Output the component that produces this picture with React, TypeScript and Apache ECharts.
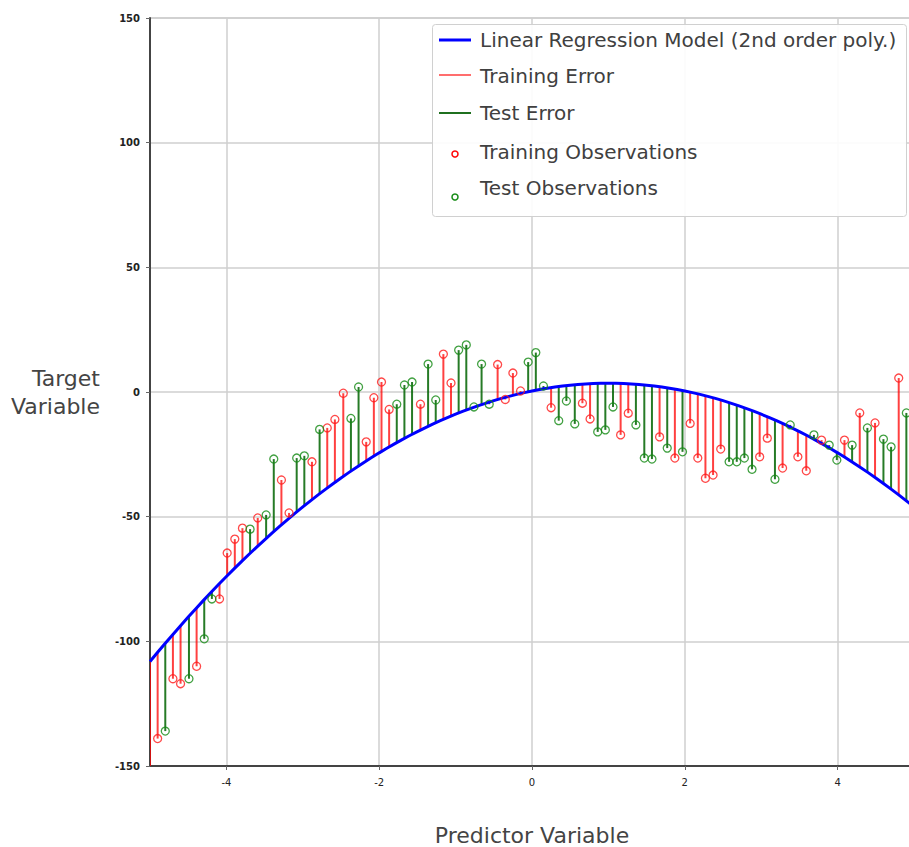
import React, { useEffect, useRef } from "react";
import * as echarts from "echarts";

// Observations (x, y)
const trainX = [-5.0, -4.9, -4.7, -4.6, -4.39, -4.09, -3.99, -3.89, -3.79, -3.59, -3.28, -3.18, -2.88, -2.68, -2.58, -2.47, -2.17, -2.07, -1.97, -1.87, -1.46, -1.16, -1.06, -0.45, -0.35, -0.25, -0.15, 0.25, 0.66, 0.76, 1.16, 1.26, 1.67, 1.87, 2.07, 2.17, 2.27, 2.37, 2.47, 2.98, 3.08, 3.28, 3.48, 3.59, 3.79, 4.09, 4.29, 4.49, 4.8];
const trainY = [-160, -139, -115, -117, -110, -83, -64.6, -59, -54.6, -50.5, -35.3, -48.5, -28, -14.4, -11, -0.5, -20, -2.3, 4, -7, -4.9, 15.2, 3.6, 11, -3, 7.6, 0.4, -6.3, -4.5, -10.8, -17.2, -8.5, -18, -26.5, -12.6, -26.5, -34.6, -33.3, -22.9, -26, -18.5, -30.5, -26, -31.6, -19.3, -19.3, -8.4, -12.4, 5.6];

const testX = [-4.8, -4.49, -4.29, -4.19, -3.69, -3.48, -3.38, -3.08, -2.98, -2.78, -2.37, -2.27, -1.77, -1.67, -1.57, -1.36, -1.26, -0.96, -0.86, -0.76, -0.66, -0.56, -0.05, 0.05, 0.15, 0.35, 0.45, 0.56, 0.86, 0.96, 1.06, 1.36, 1.47, 1.57, 1.77, 1.97, 2.58, 2.68, 2.78, 2.88, 3.18, 3.38, 3.69, 3.89, 3.99, 4.19, 4.39, 4.6, 4.7, 4.9];
const testY = [-136, -115, -99, -83, -55, -49.3, -26.9, -26.5, -25.6, -15, -10.6, 2, -4.9, 2.8, 4, 11.2, -3.2, 16.8, 18.9, -6, 11.2, -4.9, 12, 15.8, 2.4, -11.5, -3.6, -12.8, -16, -15.2, -6, -13.2, -26.5, -26.9, -22.5, -24, -28, -28, -26.5, -31, -35, -13.2, -17.2, -21.3, -27.3, -21.3, -14.4, -18.9, -22, -8.4];

// 2nd order polynomial model: [intercept, linear, quadratic]
const modelCoefficients = [0.4, 6.2, -3.1];

const legendLabels = [
  "Linear Regression Model (2nd order poly.)",
  "Training Error",
  "Test Error",
  "Training Observations",
  "Test Observations",
];

const modelAt = (x: number) =>
  modelCoefficients[0] + modelCoefficients[1] * x + modelCoefficients[2] * x * x;

const FONT = "DejaVu Sans";

export default function App() {
  const ref = useRef<HTMLDivElement>(null);
  useEffect(() => {
    if (!ref.current) return;
    const chart = echarts.init(ref.current, undefined, { renderer: "svg" });

    const stem = (color: string) => (params: any, api: any) => {
      const x = api.value(0) as number;
      const y = api.value(1) as number;
      const p1 = api.coord([x, y]);
      const p2 = api.coord([x, modelAt(x)]);
      return {
        type: "line",
        shape: { x1: p1[0], y1: p1[1], x2: p2[0], y2: p2[1] },
        style: { stroke: color, lineWidth: 2 },
      };
    };

    const trainData = trainX.map((x, i) => [x, trainY[i]]);
    const testData = testX.map((x, i) => [x, testY[i]]);
    const curveX: number[] = [];
    for (let i = 0; i <= 100; i++) curveX.push(-5 + i * 0.1);
    const curveData = curveX.map((x) => [x, modelAt(x)]);

    const legendRows = [40, 76, 113, 152, 188];
    const lx = 480;
    const legendGraphics: any[] = [
      {
        type: "rect",
        shape: { x: 432.5, y: 24.5, width: 474, height: 192, r: 3 },
        style: { fill: "rgba(255,255,255,0.9)", stroke: "#d0d0d0", lineWidth: 1 },
        z: 100,
      },
      { type: "line", shape: { x1: 439, y1: 40, x2: 471, y2: 40 }, style: { stroke: "#0000ff", lineWidth: 3 }, z: 101 },
      { type: "line", shape: { x1: 439, y1: 75, x2: 471, y2: 75 }, style: { stroke: "rgba(255,60,60,0.75)", lineWidth: 2 }, z: 101 },
      { type: "line", shape: { x1: 439, y1: 113, x2: 471, y2: 113 }, style: { stroke: "#1f701f", lineWidth: 2 }, z: 101 },
      { type: "circle", shape: { cx: 455, cy: 154, r: 3 }, style: { fill: "none", stroke: "#ff0000", lineWidth: 1.5 }, z: 101 },
      { type: "circle", shape: { cx: 455, cy: 197, r: 3 }, style: { fill: "none", stroke: "#138a13", lineWidth: 1.5 }, z: 101 },
    ];
    legendLabels.forEach((t, i) => {
      legendGraphics.push({
        type: "text",
        x: lx,
        y: legendRows[i],
        style: {
          text: t,
          fill: "#404040",
          font: `20px "${FONT}"`,
          textVerticalAlign: "middle",
          verticalAlign: "middle",
        },
        z: 101,
      });
    });

    chart.setOption({
      animation: false,
      backgroundColor: "#ffffff",
      grid: {
        left: 150,
        top: 18,
        width: 764,
        height: 748,
        show: true,
        borderColor: "#b0b0b0",
        borderWidth: 1,
        containLabel: false,
        outerBoundsMode: "none",
      },
      xAxis: {
        type: "value",
        min: -5,
        max: 5,
        splitNumber: 5,
        name: "Predictor Variable",
        nameLocation: "middle",
        nameGap: 58,
        nameTextStyle: { fontFamily: FONT, fontSize: 22, color: "#444" },
        axisLine: { onZero: false, lineStyle: { color: "#444", width: 2 } },
        axisTick: { show: true, length: 4, lineStyle: { color: "#666" } },
        axisLabel: {
          showMinLabel: false,
          showMaxLabel: false,
          fontFamily: FONT,
          fontSize: 10,
          color: "#222",
          margin: 11,
        },
        splitLine: { show: true, lineStyle: { color: "#cfcfcf", width: 1.5 } },
      },
      yAxis: {
        type: "value",
        min: -150,
        max: 150,
        interval: 50,
        name: "Target\nVariable",
        nameLocation: "middle",
        nameRotate: 0,
        nameGap: 50,
        nameTextStyle: { fontFamily: FONT, fontSize: 22, color: "#444", align: "right", lineHeight: 28 },
        axisLine: { onZero: false, lineStyle: { color: "#444", width: 2 } },
        axisTick: { show: true, length: 4, lineStyle: { color: "#666" } },
        axisLabel: { fontFamily: FONT, fontSize: 10, fontWeight: "bold", color: "#222", margin: 10 },
        splitLine: { show: true, lineStyle: { color: "#cfcfcf", width: 1.5 } },
      },
      series: [
        {
          name: "Training Error",
          type: "custom",
          renderItem: stem("rgba(255,0,0,0.75)"),
          data: trainData,
          encode: { x: 0, y: 1 },
          clip: true,
          z: 2,
        },
        {
          name: "Test Error",
          type: "custom",
          renderItem: stem("rgba(0,100,0,0.85)"),
          data: testData,
          encode: { x: 0, y: 1 },
          clip: true,
          z: 2,
        },
        {
          name: "Linear Regression Model (2nd order poly.)",
          type: "line",
          data: curveData,
          showSymbol: false,
          symbol: "none",
          smooth: false,
          lineStyle: { color: "#0000ff", width: 3 },
          clip: true,
          z: 4,
        },
        {
          name: "Training Observations",
          type: "scatter",
          data: trainData,
          symbol: "circle",
          symbolSize: 8,
          itemStyle: { color: "rgba(255,255,255,0)", borderColor: "#ff1a1a", borderWidth: 1.3 },
          clip: true,
          z: 5,
        },
        {
          name: "Test Observations",
          type: "scatter",
          data: testData,
          symbol: "circle",
          symbolSize: 8,
          itemStyle: { color: "rgba(255,255,255,0)", borderColor: "#138a13", borderWidth: 1.3 },
          clip: true,
          z: 5,
        },
      ],
      graphic: legendGraphics,
    });
    return () => chart.dispose();
  }, []);

  return (
    <div
      style={{
        position: "fixed",
        left: 0,
        top: 0,
        width: 909,
        height: 847,
        overflow: "hidden",
        background: "#fff",
      }}
    >
      <div ref={ref} style={{ width: 940, height: 847 }} />
    </div>
  );
}
